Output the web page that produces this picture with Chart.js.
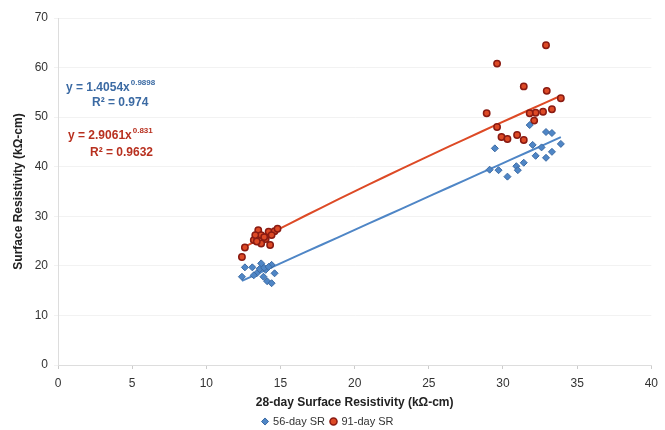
<!DOCTYPE html>
<html>
<head>
<meta charset="utf-8">
<script src="https://cdn.jsdelivr.net/npm/chart.js@4"></script>
<style>
  html, body { margin: 0; padding: 0; background: #fff; }
  #wrap { width: 665px; height: 430px; }
</style>
</head>
<body>
<div id="wrap"><canvas id="myChart" width="665" height="430"></canvas></div>
<script>
// 56-day SR (blue diamonds)
let sr56X = [12.4, 12.6, 13.1, 13.7, 13.6, 14.0, 13.4, 14.4, 14.6, 14.1, 14.4, 13.85, 13.2, 13.9, 14.2,
    31.8, 32.9, 33.3, 29.45, 32.0, 32.6, 32.2, 32.9, 33.3, 33.9, 29.1, 29.7, 30.3, 30.9, 31.0, 31.4];
let sr56Y = [17.8, 19.7, 19.7, 20.5, 19.4, 19.2, 18.5, 20.2, 18.5, 16.9, 16.5, 17.8, 18.1, 19.6, 19.8,
    48.4, 47.0, 46.8, 43.7, 44.4, 43.9, 42.2, 41.8, 43.0, 44.6, 39.4, 39.3, 38.0, 40.1, 39.3, 40.8];

// 91-day SR (red circles)
let sr91X = [12.4, 12.6, 13.2, 13.5, 13.7, 14.0, 14.2, 14.3, 13.7, 13.4, 14.6, 14.8, 13.3, 14.4, 13.9,
    32.9, 29.6, 31.4, 32.95, 33.9, 33.3, 32.7, 32.2, 31.8, 32.1, 29.6, 29.9, 30.3, 30.95, 31.4, 28.9];
let sr91Y = [21.8, 23.7, 25.2, 27.2, 26.2, 25.4, 26.9, 24.2, 24.5, 24.9, 27.0, 27.5, 26.2, 26.2, 25.8,
    64.5, 60.8, 56.2, 55.3, 53.8, 51.6, 51.1, 50.9, 50.8, 49.3, 48.0, 46.0, 45.6, 46.4, 45.4, 50.8];

// power trendlines as printed on the chart: y = a * x^b
let trend56 = [1.4054, 0.9898];
let trend91 = [2.9061, 0.831];
let trendLabels = ['y = 1.4054x', '0.9898', 'R\u00B2 = 0.974', 'y = 2.9061x', '0.831', 'R\u00B2 = 0.9632'];

const BLUE = '#4f86c6';
const BLUE_DARK = '#3b6aa3';
const RED = '#dd4a26';
const RED_DARK = '#8a1b12';
const FONT = '"Liberation Sans", Arial, sans-serif';

function toPoints(xs, ys) {
    return xs.map((x, i) => ({ x: x, y: ys[i] }));
}

function trendPoints(xs, coef) {
    let lo = Math.min(...xs), hi = Math.max(...xs);
    let pts = [];
    for (let i = 0; i <= 20; i++) {
        let x = lo + (hi - lo) * i / 20;
        pts.push({ x: x, y: coef[0] * Math.pow(x, coef[1]) });
    }
    return pts;
}

const equationPlugin = {
    id: 'equations',
    afterDatasetsDraw(chart) {
        const ctx = chart.ctx;
        ctx.save();
        ctx.textBaseline = 'middle';
        ctx.textAlign = 'left';
        function eq(main, sup, x, y, color) {
            ctx.fillStyle = color;
            ctx.font = 'bold 12px ' + FONT;
            ctx.fillText(main, x, y);
            let w = ctx.measureText(main).width;
            ctx.font = 'bold 8px ' + FONT;
            ctx.fillText(sup, x + w + 1, y - 5);
        }
        eq(trendLabels[0], trendLabels[1], 66, 88, BLUE_DARK);
        ctx.font = 'bold 12px ' + FONT;
        ctx.fillText(trendLabels[2], 92, 103);
        eq(trendLabels[3], trendLabels[4], 68, 136, '#b8301f');
        ctx.font = 'bold 12px ' + FONT;
        ctx.fillText(trendLabels[5], 90, 153);
        ctx.restore();
    }
};

let chartElement = document.getElementById('myChart').getContext('2d');

let myChart = new Chart(chartElement, {
    type: 'scatter',
    data: {
        datasets: [{
            label: '56-day SR',
            data: toPoints(sr56X, sr56Y),
            pointStyle: 'rectRot',
            pointRadius: 3.5,
            backgroundColor: BLUE,
            borderColor: BLUE_DARK,
            borderWidth: 1
        }, {
            label: '91-day SR',
            data: toPoints(sr91X, sr91Y),
            pointStyle: 'circle',
            pointRadius: 3.2,
            backgroundColor: RED,
            borderColor: RED_DARK,
            borderWidth: 1.5
        }, {
            label: 'trend56',
            type: 'line',
            data: trendPoints(sr56X, trend56),
            borderColor: BLUE,
            borderWidth: 2,
            pointRadius: 0,
            fill: false
        }, {
            label: 'trend91',
            type: 'line',
            data: trendPoints(sr91X, trend91),
            borderColor: RED,
            borderWidth: 2,
            pointRadius: 0,
            fill: false
        }]
    },
    options: {
        responsive: false,
        animation: false,
        layout: { padding: { top: 18, right: 9, left: 0, bottom: -7 } },
        plugins: {
            legend: {
                position: 'bottom',
                labels: {
                    filter: item => item.text.indexOf('trend') !== 0,
                    usePointStyle: true,
                    boxWidth: 5,
                    boxHeight: 5,
                    padding: 6,
                    color: '#333',
                    font: { family: FONT, size: 11 }
                }
            },
            tooltip: { enabled: false }
        },
        scales: {
            x: {
                type: 'linear',
                min: 0,
                max: 40,
                ticks: {
                    stepSize: 5,
                    color: '#333',
                    padding: 7,
                    font: { family: FONT, size: 12 }
                },
                grid: { drawOnChartArea: false, tickLength: 4, color: '#ccc' },
                border: { color: '#ddd' },
                title: {
                    display: true,
                    text: '28-day Surface Resistivity (k\u03A9-cm)',
                    color: '#222',
                    padding: { top: 0, bottom: 0 },
                    font: { family: FONT, size: 12, weight: 'bold' }
                },
                afterFit: function(scale) { scale.height = 45; }
            },
            y: {
                min: 0,
                max: 70,
                ticks: {
                    stepSize: 10,
                    color: '#333',
                    padding: 6,
                    font: { family: FONT, size: 12 }
                },
                grid: { color: 'rgba(0,0,0,0.05)', tickLength: 4 },
                border: { color: '#ddd' },
                title: {
                    display: true,
                    text: 'Surface Resistivity (k\u03A9-cm)',
                    color: '#222',
                    padding: { top: 11, bottom: 2 },
                    font: { family: FONT, size: 12, weight: 'bold' }
                },
                afterFit: function(scale) { scale.width = 58; }
            }
        }
    },
    plugins: [equationPlugin]
});
</script>
</body>
</html>
